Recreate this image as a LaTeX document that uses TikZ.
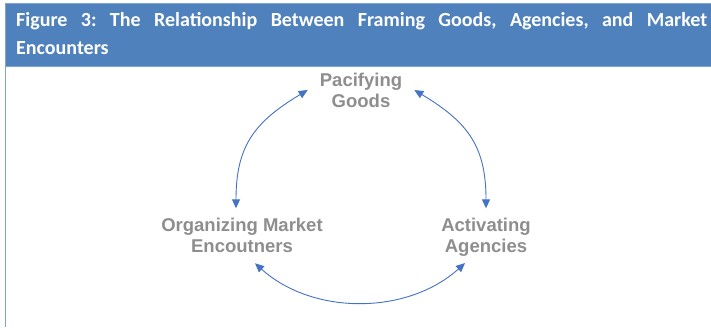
\documentclass[tikz,border=0pt]{standalone}
\usepackage{fontspec}
\usetikzlibrary{arrows.meta}
\newfontfamily\titlefam{Carlito}
\newfontfamily\labfam{Liberation Sans}
\definecolor{hdrblue}{HTML}{4F81BD}
\definecolor{brdblue}{HTML}{7FA3D6}
\definecolor{arrblue}{HTML}{4472C4}
\definecolor{labgray}{HTML}{8E8E8E}
\frenchspacing
\tikzset{
  titletext/.style={inner sep=0pt, text=white, font=\titlefam\bfseries\fontsize{20}{28}\selectfont},
  lab/.style={align=center, inner xsep=12pt, inner ysep=10pt, text=labgray, font=\labfam\bfseries\fontsize{18.5}{21}\selectfont},
  conn/.style={draw=arrblue, line width=0.9pt, {Triangle[length=9pt,width=8pt]}-{Triangle[length=9pt,width=8pt]}, fill=none},
}
\begin{document}
\begin{tikzpicture}[x=1pt,y=1pt]
\useasboundingbox (0,0) rectangle (711,327);
\fill[white] (0,0) rectangle (711,327);
% header bar
\fill[hdrblue] (5,323) rectangle (711,261);
\draw[brdblue, line width=1.5pt] (711,323.3) -- (5.5,323.3) -- (5.5,0);
\draw[brdblue, line width=1.5pt] (5.5,260.5) -- (711,260.5);
% title
\node[titletext, anchor=base west] (t1) at (16,300.3) {\makebox[691pt][s]{\frenchspacing Figure 3: The Relationship Between Framing Goods, Agencies, and Market}};
\node[titletext, anchor=base west] (t2) at (16,272) {Encounters};
% labels
\node[lab] (pac) at (361,237) {Pacifying\\Goods};
\node[lab] (org) at (242,91.2) {Organizing Market\\Encoutners};
\node[lab] (act) at (486,89.3) {Activating\\Agencies};
% connectors
\draw[conn] ([xshift=-6pt]org.north) to[out=90,in=211,looseness=1.15] (pac.west);
\draw[conn] (act.north) to[out=90,in=-31,looseness=1.15] (pac.east);
\draw[conn] ([xshift=13pt]org.south) to[out=-42,in=222,looseness=0.95] ([xshift=-21pt,yshift=4pt]act.south);
\end{tikzpicture}
\end{document}
